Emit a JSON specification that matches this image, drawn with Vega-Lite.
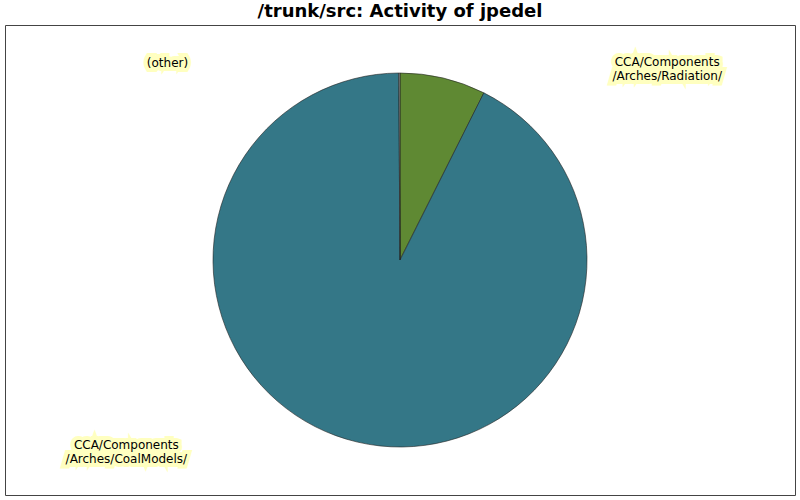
{
  "$schema": "https://vega.github.io/schema/vega-lite/v6.json",
  "autosize": {"type": "fit", "contains": "padding"},
  "width": 800,
  "height": 500,
  "padding": {"left": 5, "top": 3, "right": 5, "bottom": 5},
  "background": "white",
  "view": {"stroke": "#444444", "strokeWidth": 1},
  "title": {
    "text": "/trunk/src: Activity of jpedel",
    "font": "DejaVu Sans",
    "fontSize": 18,
    "fontWeight": "bold",
    "color": "black",
    "anchor": "middle",
    "offset": 4
  },
  "data": {
    "values": [
      {"dir": "CCA/Components/Arches/Radiation/", "share": 7.4, "order": 1},
      {"dir": "CCA/Components/Arches/CoalModels/", "share": 92.5, "order": 2},
      {"dir": "(other)", "share": 0.1, "order": 3}
    ]
  },
  "encoding": {
    "theta": {"field": "share", "type": "quantitative", "stack": true},
    "order": {"field": "order", "type": "quantitative"}
  },
  "layer": [
    {
      "mark": {"type": "arc", "outerRadius": 187, "stroke": "#222222", "strokeWidth": 0.6},
      "encoding": {
        "color": {
          "field": "dir",
          "type": "nominal",
          "legend": null,
          "scale": {
            "domain": ["CCA/Components/Arches/Radiation/", "CCA/Components/Arches/CoalModels/", "(other)"],
            "range": ["#5f8933", "#347787", "#a0a0a0"]
          }
        }
      }
    },
    {
      "mark": {"type": "text", "radius": 170, "dx": 228, "dy": -33, "font": "DejaVu Sans", "fontSize": 12, "align": "center", "baseline": "middle", "fill": "#ffffc0", "stroke": "#ffffc0", "strokeWidth": 8, "strokeJoin": "miter"},
      "encoding": {
        "text": {"condition": {"test": "datum.order == 1", "value": ["CCA/Components", "/Arches/Radiation/"]}, "value": ""}
      }
    },
    {
      "mark": {"type": "text", "radius": 170, "dx": 228, "dy": -33, "font": "DejaVu Sans", "fontSize": 12, "align": "center", "baseline": "middle", "color": "black"},
      "encoding": {
        "text": {"condition": {"test": "datum.order == 1", "value": ["CCA/Components", "/Arches/Radiation/"]}, "value": ""}
      }
    },
    {
      "mark": {"type": "text", "radius": 170, "dx": -235, "dy": 19, "font": "DejaVu Sans", "fontSize": 12, "align": "center", "baseline": "middle", "fill": "#ffffc0", "stroke": "#ffffc0", "strokeWidth": 8, "strokeJoin": "miter"},
      "encoding": {
        "text": {"condition": {"test": "datum.order == 2", "value": ["CCA/Components", "/Arches/CoalModels/"]}, "value": ""}
      }
    },
    {
      "mark": {"type": "text", "radius": 170, "dx": -235, "dy": 19, "font": "DejaVu Sans", "fontSize": 12, "align": "center", "baseline": "middle", "color": "black"},
      "encoding": {
        "text": {"condition": {"test": "datum.order == 2", "value": ["CCA/Components", "/Arches/CoalModels/"]}, "value": ""}
      }
    },
    {
      "mark": {"type": "text", "radius": 170, "dx": -232, "dy": -27, "font": "DejaVu Sans", "fontSize": 12, "align": "center", "baseline": "middle", "fill": "#ffffc0", "stroke": "#ffffc0", "strokeWidth": 8, "strokeJoin": "miter"},
      "encoding": {
        "text": {"condition": {"test": "datum.order == 3", "value": "(other)"}, "value": ""}
      }
    },
    {
      "mark": {"type": "text", "radius": 170, "dx": -232, "dy": -27, "font": "DejaVu Sans", "fontSize": 12, "align": "center", "baseline": "middle", "color": "black"},
      "encoding": {
        "text": {"condition": {"test": "datum.order == 3", "value": "(other)"}, "value": ""}
      }
    }
  ]
}
